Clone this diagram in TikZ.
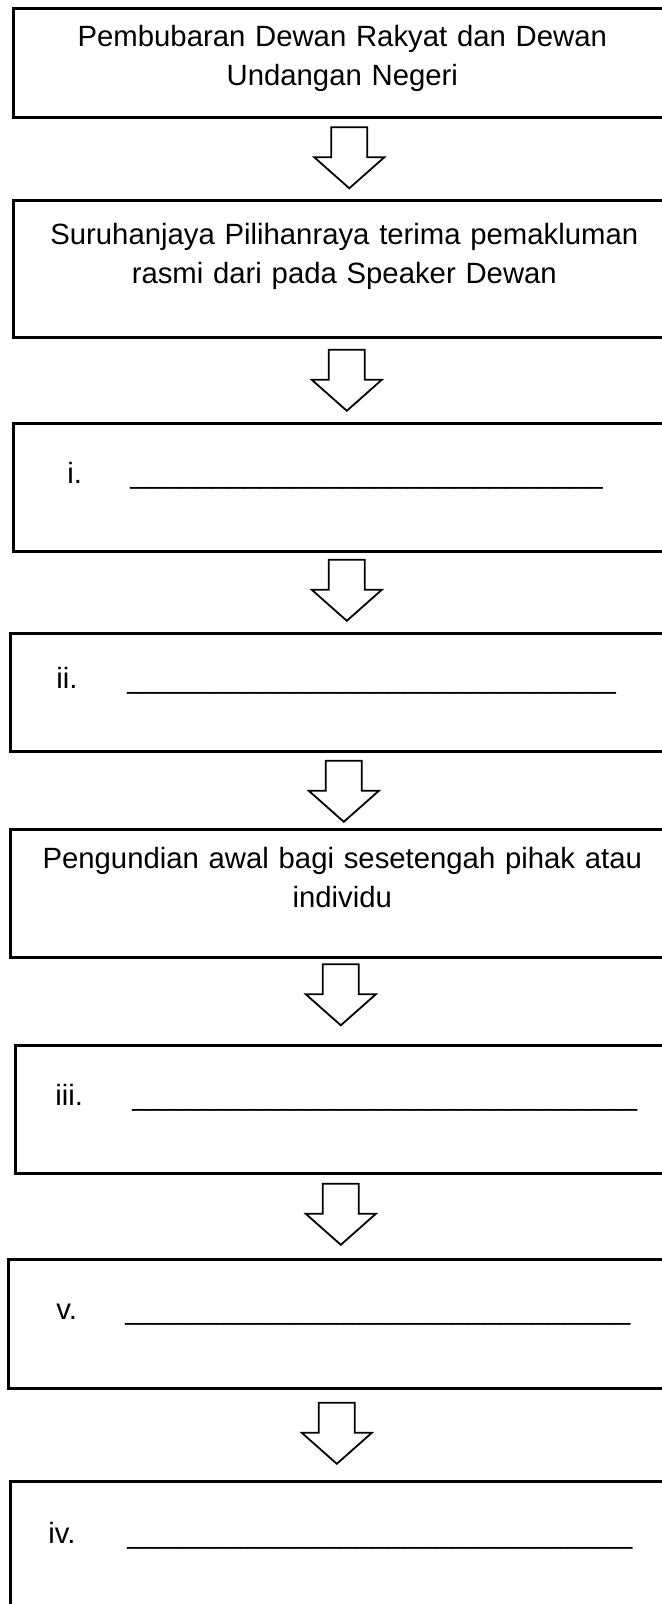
\documentclass[tikz,border=0pt]{standalone}
\usepackage{fontspec}
\setmainfont{Liberation Sans}
\usetikzlibrary{calc}
\newcommand{\answerline}[1]{\foreach \n in {1,...,#1}{\_}}

\begin{document}
\begin{tikzpicture}[
  x=0.5pt, y=-0.5pt,
  stagebox/.style={
    rectangle,
    draw=black,
    line width=1.3pt,
    anchor=north west,
    inner sep=0pt,
    font=\fontsize{14.65pt}{19.5pt}\selectfont
  },
  textbox/.style={stagebox, align=center},
  blankbox/.style={stagebox, align=left, text width=335pt},
  blockarrow/.style={draw=black, line width=0.9pt, fill=white, line join=miter}
]
  \useasboundingbox (0,0) rectangle (662,1604);
  \clip (0,0) rectangle (662,1604);

  % boxes, top to bottom
  \node[textbox, text width=329pt, text height=19pt, text depth=35.5pt] (b1) at (12,7) {Pembubaran Dewan Rakyat dan Dewan\\Undangan Negeri};
  \node[textbox, text width=331pt, text height=22pt, text depth=46.5pt] (b2) at (12,199) {Suruhanjaya Pilihanraya terima pemakluman\\rasmi dari pada Speaker Dewan};
  \node[blankbox, text height=30pt, text depth=34pt] (b3) at (12,422) {\makebox[58.5pt][l]{\hspace*{27pt}i.}\answerline{29}};
  \node[blankbox, text height=27.5pt, text depth=31.5pt] (b4) at (9,632) {\makebox[58.5pt][l]{\hspace*{23pt}ii.}\answerline{30}};
  \node[textbox, text width=332pt, text height=19.5pt, text depth=44.5pt] (b5) at (9,828) {Pengundian awal bagi sesetengah pihak atau\\individu};
  \node[blankbox, text height=30pt, text depth=34pt] (b6) at (14,1044) {\makebox[58.5pt][l]{\hspace*{20pt}iii.}\answerline{31}};
  \node[blankbox, text height=30pt, text depth=34.5pt] (b7) at (7,1258) {\makebox[58.5pt][l]{\hspace*{24pt}v.}\answerline{31}};
  \node[blankbox, text height=31pt, text depth=39pt] (b8) at (9,1480) {\makebox[58.5pt][l]{\hspace*{19pt}iv.}\answerline{31}};

  % hollow block arrows between the boxes
  \foreach \from/\to/\dx/\dy in {b1/b2/6/-1, b2/b3/0.5/0, b3/b4/0/-2, b4/b5/0/1, b5/b6/-5.5/-6.5, b6/b7/-6/-2, b7/b8/-7.5/-1.5}
    \draw[blockarrow] ($(\from.south)!0.5!(\to.north)+(\dx,\dy)+(-18,-30.5)$)
      -- ++(36,0) -- ++(0,30) -- ++(17,0) -- ++(-35,31) -- ++(-35,-31) -- ++(17,0) -- cycle;
\end{tikzpicture}
\end{document}
